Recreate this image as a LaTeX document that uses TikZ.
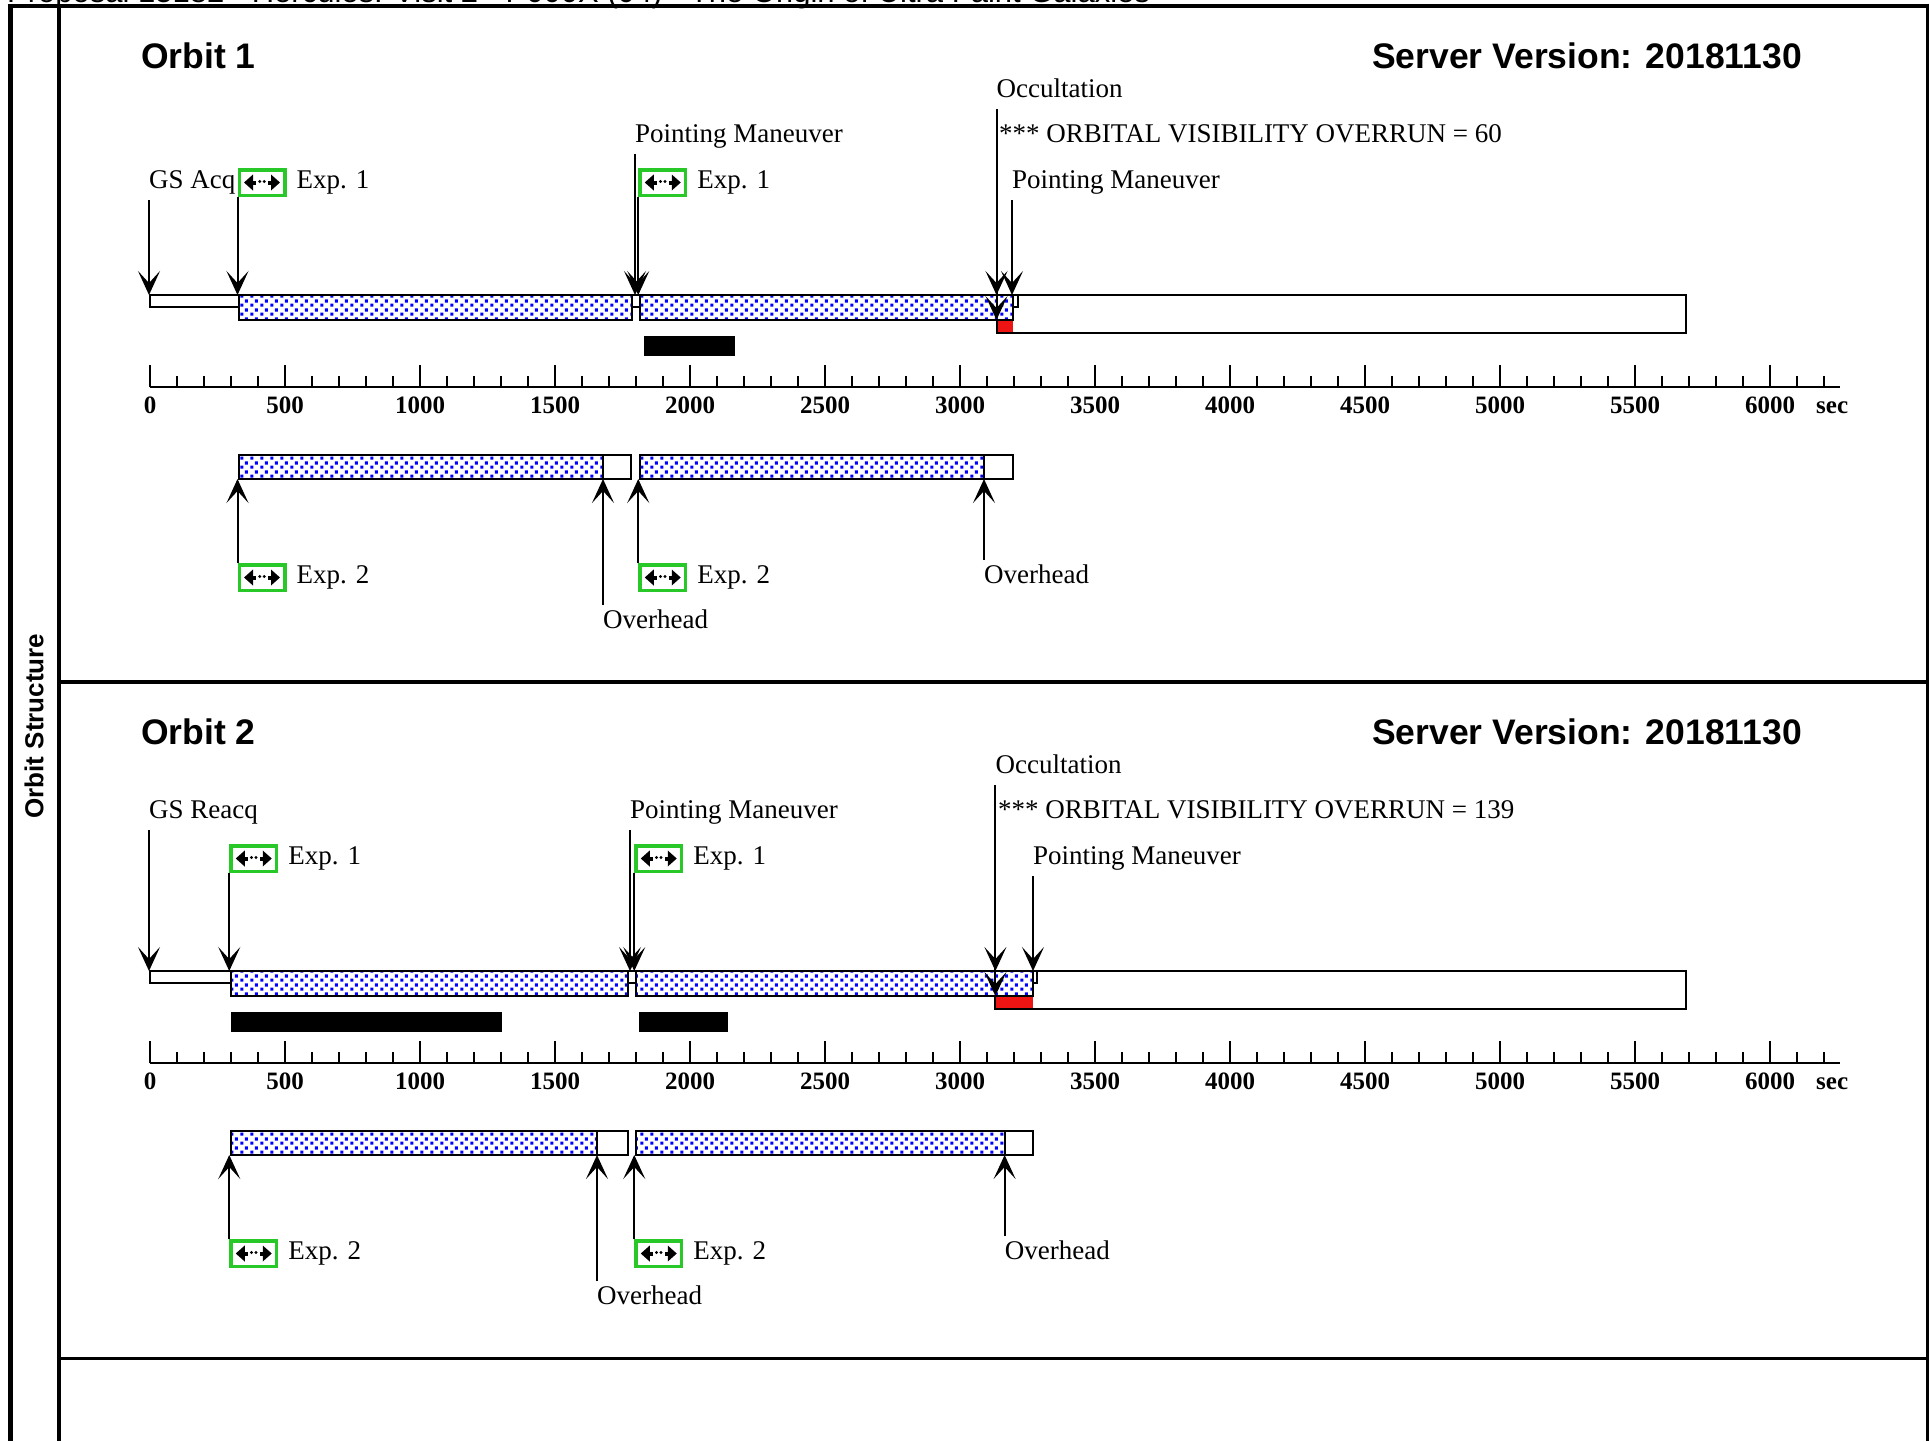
\documentclass[tikz,border=0pt]{standalone}
\usepackage{fontspec}
\setmainfont{Liberation Serif}
\newfontfamily\arialfont{Liberation Sans}
\usepackage{tikz}
\usetikzlibrary{arrows.meta,patterns,positioning}
\definecolor{expgreen}{RGB}{40,200,40}
\definecolor{ovrred}{RGB}{238,20,20}
\pgfdeclarepatternformonly{bluedots}{\pgfqpoint{0pt}{0pt}}{\pgfqpoint{10pt}{9pt}}{\pgfqpoint{10pt}{9pt}}{%
  \pgfpathrectangle{\pgfqpoint{0.3pt}{0.3pt}}{\pgfqpoint{3.4pt}{3.4pt}}%
  \pgfpathrectangle{\pgfqpoint{5.3pt}{4.8pt}}{\pgfqpoint{3.4pt}{3.4pt}}%
  \pgfusepath{fill}}
% time axis: #1 = y of axis line, #2 = prefix of node names
\providecommand{\timeaxis}[2]{%
  \draw[axisline] (150,#1) -- (1840,#1);
  \foreach \tm in {0,100,...,6200} {\draw[axisline] ({150+0.27*\tm},#1) -- ++(0,-11);}
  \foreach \tm in {0,500,...,6000} {
    \draw[axisline] ({150+0.27*\tm},#1) -- ++(0,-22);
    \node[axnum] (#2n\tm) at ({150+0.27*\tm},{#1+26}) {\tm};}
  \node[axnum, anchor=base west] (#2sec) at (1816,{#1+26}) {sec};
}
% exposure mark inside the green box
\providecommand{\expglyph}[1]{%
  \fill ([shift={(-18,0)}]#1) -- ([shift={(-9,-8)}]#1) -- ([shift={(-9,8)}]#1) -- cycle;
  \fill ([shift={(18,0)}]#1) -- ([shift={(9,-8)}]#1) -- ([shift={(9,8)}]#1) -- cycle;
  \draw[line width=4pt] ([shift={(-10,0)}]#1) -- ([shift={(-6,0)}]#1);
  \draw[line width=4pt] ([shift={(10,0)}]#1) -- ([shift={(6,0)}]#1);
  \fill ([shift={(-2.2,-1)}]#1) circle (1.6pt);
  \fill ([shift={(2.2,-1)}]#1) circle (1.6pt);
}

\begin{document}
\begin{tikzpicture}[scale=1.000000,x=1pt,y=-1pt,
  evarrow/.style={line width=2pt, -{Stealth[length=24pt,width=22pt,inset=12pt]}},
  bar/.style={draw=black, line width=2pt, fill=white},
  dotbar/.style={draw=black, line width=2pt, preaction={fill=white}, pattern=bluedots, pattern color=blue},
  lbl/.style={anchor=base west, inner sep=0pt, text depth=6pt, font=\fontsize{27}{30}\selectfont},
  expbox/.style={draw=expgreen, line width=3.5pt, fill=white, minimum width=45.5pt, minimum height=25.5pt, inner sep=0pt},
  ttl/.style={inner sep=0pt, font=\arialfont\bfseries\fontsize{35.5}{40}\selectfont},
  axisline/.style={line width=2pt},
  axnum/.style={anchor=base, inner sep=0pt, font=\bfseries\fontsize{25}{28}\selectfont}]
\useasboundingbox (0,0) rectangle (1929,1441);
\clip (0,0) rectangle (1929,1441);
\fill[white] (0,0) rectangle (1929,1441);
% Drawing page header and frame
\node[anchor=base west, inner sep=0pt, font=\arialfont\fontsize{31}{34}\selectfont] (hdr) at (7,2.5) {Proposal 15182 - Hercules: Visit 2 - P000X (04) - The Origin of Ultra Faint Galaxies};
\draw[line width=4pt] (7.5,5.5) -- (1929,5.5);
\draw[line width=5pt] (10,3.5) -- (10,1441);
\draw[line width=3pt] (1927.5,3.5) -- (1927.5,1441);
\draw[line width=3.5pt] (59,5.5) -- (59,1441);
\draw[line width=4pt] (59,682) -- (1927.5,682);
\draw[line width=3pt] (59,1358) -- (1927.5,1358);
\node[rotate=90, inner sep=0pt, font=\arialfont\bfseries\fontsize{26}{30}\selectfont] (side) at (34,726) {Orbit Structure};
% Orbit 1
\node[ttl, anchor=base west] (o1ttl) at (141,68) {Orbit 1};
\node[ttl, anchor=base east] (o1srv) at (1802,68) {Server Version: 20181130};
\coordinate (o1top) at (0,295);
\coordinate (o1dot) at (0,320);
\coordinate (o1low) at (0,479);
% Line 1: bars of the orbit
\filldraw[bar] (150,295) rectangle (239.1,306.5);
\fill[white] (996.5,295) rectangle (1686,333);
\fill[ovrred] (996.5,320) rectangle (1012.7,333);
\draw[bar, fill=none] (996.5,295) rectangle (1686,333);
\path[dotbar] (239.1,295) rectangle (632,320);
\filldraw[bar] (632,295) rectangle (640,306.5);
\path[dotbar] (640,295) rectangle (1012.7,320);
\filldraw[bar] (1012.7,295) rectangle (1018,306.5);
\fill (644,336) rectangle (734.5,356);
% Line 2: exposures and overheads
\path[dotbar] (239.1,455) rectangle (603,479);
\filldraw[bar] (603,455) rectangle (631,479);
\path[dotbar] (640,455) rectangle (984,479);
\filldraw[bar] (984,455) rectangle (1012.7,479);
\timeaxis{387}{o1}
% Done with bars; drawing labels
\node[lbl] (o1occ) at (996.5,97) {Occultation};
\node[lbl] (o1pm1) at (635,142) {Pointing Maneuver};
\node[lbl] (o1ovr) at (999,142) {*** ORBITAL VISIBILITY OVERRUN = 60};
\node[lbl] (o1gs) at (149,188) {GS Acq};
\node[expbox] (o1e1abox) at (262,182.5) {};
\node[lbl, right=10pt of o1e1abox] (o1e1a) {Exp. 1};
\node[expbox] (o1e1bbox) at (662.75,182.5) {};
\node[lbl, right=10pt of o1e1bbox] (o1e1b) {Exp. 1};
\node[lbl] (o1pm2) at (1012,188) {Pointing Maneuver};
\node[expbox] (o1e2abox) at (262,577.5) {};
\node[lbl, right=10pt of o1e2abox] (o1e2a) {Exp. 2};
\node[expbox] (o1e2bbox) at (662.75,577.5) {};
\node[lbl, right=10pt of o1e2bbox] (o1e2b) {Exp. 2};
\node[lbl] (o1oha) at (603,628) {Overhead};
\node[lbl] (o1ohb) at (984,583) {Overhead};
\expglyph{o1e1abox.center}
\expglyph{o1e1bbox.center}
\expglyph{o1e2abox.center}
\expglyph{o1e2bbox.center}
% Done with labels; drawing arrows
\draw[evarrow] ([yshift=-6pt]o1gs.south west) -- (o1gs.south west |- o1top);
\draw[evarrow] (o1e1abox.south west) -- (o1e1abox.south west |- o1top);
\draw[evarrow] ([yshift=-6pt]o1pm1.south west) -- (o1pm1.south west |- o1top);
\draw[evarrow] (o1e1bbox.south west) -- (o1e1bbox.south west |- o1top);
\draw[evarrow] ([yshift=-6pt]o1occ.south west) -- (o1occ.south west |- o1top);
\draw[evarrow] ([yshift=-6pt]o1occ.south west) -- (o1occ.south west |- o1dot);
\draw[evarrow] ([yshift=-6pt]o1pm2.south west) -- (o1pm2.south west |- o1top);
\draw[evarrow] (o1e2abox.north west) -- (o1e2abox.north west |- o1low);
\draw[evarrow] ([yshift=4pt]o1oha.north west) -- (o1oha.north west |- o1low);
\draw[evarrow] (o1e2bbox.north west) -- (o1e2bbox.north west |- o1low);
\draw[evarrow] ([yshift=4pt]o1ohb.north west) -- (o1ohb.north west |- o1low);
% Orbit 2
\begin{scope}[yshift=-676pt]
\node[ttl, anchor=base west] (o2ttl) at (141,68) {Orbit 2};
\node[ttl, anchor=base east] (o2srv) at (1802,68) {Server Version: 20181130};
\coordinate (o2top) at (0,295);
\coordinate (o2dot) at (0,320);
\coordinate (o2low) at (0,479);
% Line 1: bars of the orbit
\filldraw[bar] (150,295) rectangle (231,306.5);
\fill[white] (995.4,295) rectangle (1686,333);
\fill[ovrred] (995.4,320) rectangle (1032.9,333);
\draw[bar, fill=none] (995.4,295) rectangle (1686,333);
\path[dotbar] (231,295) rectangle (627.9,320);
\filldraw[bar] (627.9,295) rectangle (636,306.5);
\path[dotbar] (636,295) rectangle (1032.9,320);
\filldraw[bar] (1032.9,295) rectangle (1037,306.5);
\fill (231,336) rectangle (502,356);
\fill (638.7,336) rectangle (727.8,356);
% Line 2: exposures and overheads
\path[dotbar] (231,455) rectangle (597,479);
\filldraw[bar] (597,455) rectangle (627.9,479);
\path[dotbar] (636,455) rectangle (1004.6,479);
\filldraw[bar] (1004.6,455) rectangle (1032.9,479);
\timeaxis{387}{o2}
% Done with bars; drawing labels
\node[lbl] (o2occ) at (995.4,97) {Occultation};
\node[lbl] (o2gs) at (149,142) {GS Reacq};
\node[lbl] (o2pm1) at (630,142) {Pointing Maneuver};
\node[lbl] (o2ovr) at (998,142) {*** ORBITAL VISIBILITY OVERRUN = 139};
\node[expbox] (o2e1abox) at (253.75,182.5) {};
\node[lbl, right=10pt of o2e1abox] (o2e1a) {Exp. 1};
\node[expbox] (o2e1bbox) at (658.75,182.5) {};
\node[lbl, right=10pt of o2e1bbox] (o2e1b) {Exp. 1};
\node[lbl] (o2pm2) at (1033,188) {Pointing Maneuver};
\node[expbox] (o2e2abox) at (253.75,577.5) {};
\node[lbl, right=10pt of o2e2abox] (o2e2a) {Exp. 2};
\node[expbox] (o2e2bbox) at (658.75,577.5) {};
\node[lbl, right=10pt of o2e2bbox] (o2e2b) {Exp. 2};
\node[lbl] (o2oha) at (597,628) {Overhead};
\node[lbl] (o2ohb) at (1004.6,583) {Overhead};
\expglyph{o2e1abox.center}
\expglyph{o2e1bbox.center}
\expglyph{o2e2abox.center}
\expglyph{o2e2bbox.center}
% Done with labels; drawing arrows
\draw[evarrow] ([yshift=-6pt]o2gs.south west) -- (o2gs.south west |- o2top);
\draw[evarrow] (o2e1abox.south west) -- (o2e1abox.south west |- o2top);
\draw[evarrow] ([yshift=-6pt]o2pm1.south west) -- (o2pm1.south west |- o2top);
\draw[evarrow] (o2e1bbox.south west) -- (o2e1bbox.south west |- o2top);
\draw[evarrow] ([yshift=-6pt]o2occ.south west) -- (o2occ.south west |- o2top);
\draw[evarrow] ([yshift=-6pt]o2occ.south west) -- (o2occ.south west |- o2dot);
\draw[evarrow] ([yshift=-6pt]o2pm2.south west) -- (o2pm2.south west |- o2top);
\draw[evarrow] (o2e2abox.north west) -- (o2e2abox.north west |- o2low);
\draw[evarrow] ([yshift=4pt]o2oha.north west) -- (o2oha.north west |- o2low);
\draw[evarrow] (o2e2bbox.north west) -- (o2e2bbox.north west |- o2low);
\draw[evarrow] ([yshift=4pt]o2ohb.north west) -- (o2ohb.north west |- o2low);
\end{scope}
% Done with orbits
\end{tikzpicture}
\end{document}
